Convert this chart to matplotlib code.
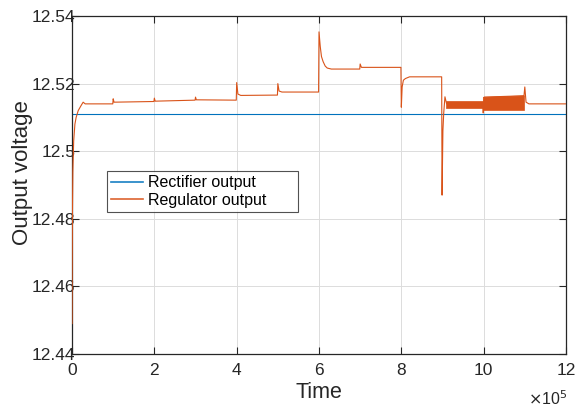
import numpy as np
import matplotlib
matplotlib.use("Agg")
import matplotlib.pyplot as plt
import matplotlib as mpl

plt.rcParams["font.family"] = ["Liberation Sans", "DejaVu Sans"]
mpl.rcParams['xtick.direction'] = 'in'
mpl.rcParams['ytick.direction'] = 'in'

# time in units of 1e5
rect_t = [0.0, 12.0]
rect_v = [12.511, 12.511]

reg_t = [0.0, 0.003, 0.01, 0.02, 0.04, 0.07, 0.1, 0.15, 0.22, 0.27, 0.32, 0.99,
         1.0, 1.02, 1.99, 2.0, 2.02, 2.99, 3.0, 3.02, 3.99,
         4.0, 4.03, 4.1, 4.99, 5.0, 5.03, 5.1, 5.99,
         6.0, 6.03, 6.06, 6.1, 6.15, 6.2, 6.3, 6.99, 7.0, 7.03, 7.99,
         8.0, 8.02, 8.05, 8.1, 8.2, 8.98, 8.99, 9.01, 9.03, 9.06, 9.1,
         9.98, 9.99, 10.0, 10.02, 10.98, 11.0, 11.03, 11.1, 12.0]
reg_v = [12.449, 12.465, 12.482, 12.494, 12.503, 12.508, 12.510, 12.512, 12.5135, 12.5145, 12.514, 12.514,
         12.5155, 12.5145, 12.5147, 12.5157, 12.5148, 12.5151, 12.516, 12.5152, 12.5151,
         12.5203, 12.5169, 12.5165, 12.5166, 12.520, 12.5178, 12.5175, 12.5175,
         12.5353, 12.531, 12.528, 12.5265, 12.5252, 12.5246, 12.5243, 12.5243, 12.5258, 12.5248, 12.5248,
         12.513, 12.519, 12.521, 12.5215, 12.522, 12.522, 12.487, 12.506, 12.5113, 12.5161, 12.514,
         12.514, 12.5113, 12.514, 12.516, 12.5164, 12.519, 12.5145, 12.514, 12.514]

# oscillation envelopes
osc1_t = [9.08, 9.98]
osc1_lo = [12.5129, 12.5129]
osc1_hi = [12.5149, 12.5149]
osc2_t = [9.98, 10.98]
osc2_lo = [12.5122, 12.5122]
osc2_hi = [12.5161, 12.5165]

blue = '#0072BD'
orange = '#D95319'

fig = plt.figure(figsize=(5.79, 4.08), dpi=100)
ax = fig.add_axes([0.1244, 0.1324, 0.8531, 0.8284])

ax.plot(rect_t, rect_v, color=blue, lw=0.8, label='Rectifier output')
ax.plot(reg_t, reg_v, color=orange, lw=0.8, label='Regulator output', zorder=3)
ax.fill_between(osc1_t, osc1_lo, osc1_hi, color=orange, lw=0.5, zorder=3)
ax.fill_between(osc2_t, osc2_lo, osc2_hi, color=orange, lw=0.5, zorder=3)

ax.set_xlim(0, 12)
ax.set_ylim(12.44, 12.54)
ax.set_xticks([0, 2, 4, 6, 8, 10, 12])
ax.set_yticks([12.44, 12.46, 12.48, 12.5, 12.52, 12.54])
ax.set_yticklabels(['12.44', '12.46', '12.48', '12.5', '12.52', '12.54'])

ax.grid(True, color='#dcdcdc', lw=0.7)
ax.set_axisbelow(True)
ax.tick_params(axis='both', which='both', top=True, right=True, length=5,
               width=0.8, labelsize=12.5, colors='#262626')
ax.tick_params(axis='y', pad=-2.5)
ax.tick_params(axis='x', pad=6.5)
for s in ax.spines.values():
    s.set_color('#262626')
    s.set_linewidth(0.9)

ax.set_xlabel('Time', fontsize=15.5, color='#262626')
ax.set_ylabel('Output voltage', fontsize=16, color='#262626')
ax.xaxis.set_label_coords(0.5, -0.083)
ax.yaxis.set_label_coords(-0.078, 0.538)
ax.text(1.003, -0.152, r'$\times$10$^5$', transform=ax.transAxes, ha='right',
        va='baseline', fontsize=11.5, color='#262626')

leg = ax.legend(loc='upper left', bbox_to_anchor=(0.0709, 0.541, 0.3866, 0.0),
                mode='expand', fontsize=11.5, frameon=True, fancybox=False,
                handlelength=2.0, handletextpad=0.3, borderpad=0.25,
                labelspacing=0.15, borderaxespad=0)
leg.get_frame().set_edgecolor('#262626')
leg.get_frame().set_linewidth(0.8)
for l in leg.get_lines():
    l.set_linewidth(1.2)
    l.set_alpha(0.9)

plt.savefig('out.png', dpi=100)
